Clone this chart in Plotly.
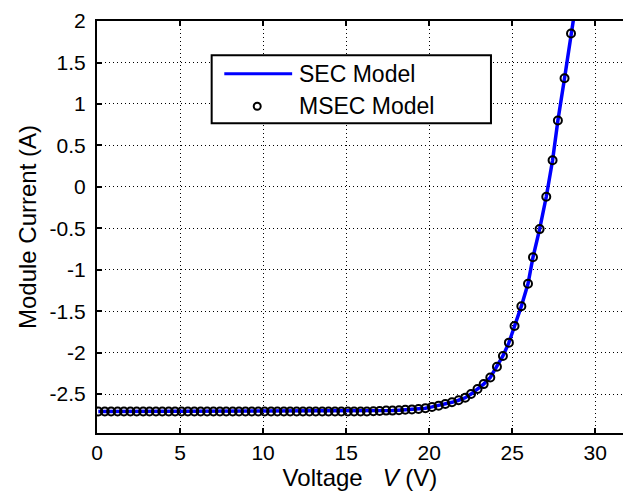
import plotly.graph_objects as go

# MSEC model points
msec_voltage = [0.08, 0.47, 0.85, 1.24, 1.62, 2.01, 2.39, 2.78, 3.16, 3.55, 3.93, 4.32,
                4.70, 5.09, 5.47, 5.86, 6.24, 6.63, 7.01, 7.40, 7.78, 8.17, 8.55, 8.94,
                9.32, 9.71, 10.09, 10.48, 10.86, 11.25, 11.63, 12.02, 12.40, 12.79, 13.17,
                13.56, 13.94, 14.33, 14.71, 15.10, 15.48, 15.87, 16.25, 16.64, 17.02, 17.41,
                17.79, 18.18, 18.56, 18.96, 19.36, 19.77, 20.17, 20.57, 20.97, 21.37, 21.77,
                22.17, 22.52, 22.91, 23.28, 23.68, 24.08, 24.44, 24.80, 25.14, 25.55, 25.95,
                26.25, 26.65, 27.05, 27.43, 27.75, 28.15, 28.54]
msec_current = [-2.71, -2.71, -2.71, -2.71, -2.71, -2.71, -2.71, -2.71, -2.71, -2.71, -2.71, -2.71,
                -2.71, -2.71, -2.71, -2.71, -2.71, -2.71, -2.71, -2.71, -2.71, -2.71, -2.71, -2.71,
                -2.71, -2.71, -2.71, -2.71, -2.71, -2.71, -2.71, -2.71, -2.71, -2.71, -2.71,
                -2.71, -2.71, -2.71, -2.71, -2.71, -2.71, -2.71, -2.71, -2.708, -2.705, -2.70,
                -2.70, -2.695, -2.69, -2.685, -2.68, -2.67, -2.655, -2.64, -2.62, -2.60, -2.575,
                -2.545, -2.50, -2.44, -2.38, -2.30, -2.17, -2.04, -1.88, -1.68, -1.44, -1.17,
                -0.85, -0.51, -0.12, 0.32, 0.80, 1.31, 1.85]

# SEC model curve (same points, continuing past the top of the axes)
sec_voltage = msec_voltage + [28.90]
sec_current = msec_current + [2.30]

x_ticks = [0, 5, 10, 15, 20, 25, 30]
x_tick_labels = ["0", "5", "10", "15", "20", "25", "30"]
y_ticks = [-2.5, -2, -1.5, -1, -0.5, 0, 0.5, 1, 1.5, 2]
y_tick_labels = ["-2.5", "-2", "-1.5", "-1", "-0.5", "0", "0.5", "1", "1.5", "2"]

FONT = "Liberation Sans, Arial, sans-serif"

fig = go.Figure()
fig.add_trace(go.Scatter(
    x=sec_voltage, y=sec_current, mode="lines", name="SEC Model",
    line=dict(color="#0000ff", width=3.5), showlegend=False))
fig.add_trace(go.Scatter(
    x=msec_voltage, y=msec_current, mode="markers", name="MSEC Model",
    marker=dict(symbol="circle-open", size=8, color="black", line=dict(width=2, color="black")),
    showlegend=False))

# Legend drawn as layout decoration (paper coordinates)
shapes = [
    dict(type="rect", xref="paper", yref="paper", x0=0.218, x1=0.749, y0=0.752, y1=0.917,
         line=dict(color="black", width=2), fillcolor="white", layer="above"),
    dict(type="line", xref="paper", yref="paper", x0=0.242, x1=0.371, y0=0.872, y1=0.872,
         line=dict(color="#0000ff", width=3), layer="above"),
    dict(type="circle", xref="paper", yref="paper", xsizemode="pixel", ysizemode="pixel",
         xanchor=0.3046, yanchor=0.793, x0=-3.5, x1=3.5, y0=-3.5, y1=3.5,
         line=dict(color="black", width=2), layer="above"),
]
annotations = [
    dict(text="SEC Model", xref="paper", yref="paper", x=0.381, y=0.872,
         xanchor="left", yanchor="middle", showarrow=False,
         font=dict(family=FONT, size=23, color="black")),
    dict(text="MSEC Model", xref="paper", yref="paper", x=0.381, y=0.793,
         xanchor="left", yanchor="middle", showarrow=False,
         font=dict(family=FONT, size=23, color="black")),
]

axis_common = dict(
    ticks="inside", ticklen=5, tickwidth=1.5, tickcolor="black",
    showline=True, linecolor="black", linewidth=2,
    showgrid=True, gridcolor="black", gridwidth=1, griddash="1px,3px",
    zeroline=False, tickfont=dict(family=FONT, size=21, color="black"),
)

fig.update_layout(
    width=623, height=494,
    margin=dict(l=97, r=0, t=21, b=61),
    paper_bgcolor="white", plot_bgcolor="white",
    shapes=shapes, annotations=annotations,
    xaxis=dict(range=[0, 31.67], tickmode="array", tickvals=x_ticks, ticktext=x_tick_labels,
               mirror="ticks", ticklabelstandoff=0,
               title=dict(text="Voltage\u00a0\u00a0\u00a0<i>V</i> (V)", standoff=0,
                          font=dict(family=FONT, size=24, color="black")),
               **axis_common),
    yaxis=dict(range=[-2.97, 2.001], tickmode="array", tickvals=y_ticks, ticktext=y_tick_labels,
               ticklabelstandoff=5,
               title=dict(text="Module Current (A)", standoff=6,
                          font=dict(family=FONT, size=24, color="black")),
               **axis_common),
)

fig.write_html("out.html")
